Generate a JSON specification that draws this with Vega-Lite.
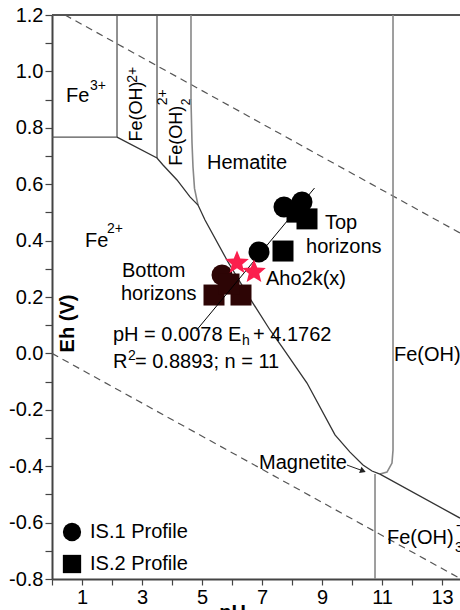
{
  "$schema": "https://vega.github.io/schema/vega-lite/v6.json",
  "width": 408,
  "height": 564,
  "autosize": {"type": "none"},
  "padding": {"left": 52, "top": 15, "right": 0, "bottom": 31},
  "background": "white",
  "config": {"view": {"stroke": null}, "font": "Liberation Sans"},
  "datasets": {
    "lines": [
      {"id": "frame", "kind": "frame", "o": 1, "pH": 0, "Eh": 1.2},
      {"id": "frame", "kind": "frame", "o": 2, "pH": 13.6, "Eh": 1.2},
      {"id": "fe3", "kind": "v", "o": 1, "pH": 0, "Eh": 0.767},
      {"id": "fe3", "kind": "v", "o": 2, "pH": 2.167, "Eh": 0.767},
      {"id": "v1", "kind": "v", "o": 1, "pH": 2.167, "Eh": 1.2},
      {"id": "v1", "kind": "v", "o": 2, "pH": 2.167, "Eh": 0.767},
      {"id": "v2", "kind": "v", "o": 1, "pH": 3.5, "Eh": 1.2},
      {"id": "v2", "kind": "v", "o": 2, "pH": 3.5, "Eh": 0.693},
      {"id": "hem", "kind": "grey", "o": 1, "pH": 4.633, "Eh": 1.2},
      {"id": "hem", "kind": "grey", "o": 2, "pH": 4.633, "Eh": 0.899},
      {"id": "hem", "kind": "grey", "o": 3, "pH": 4.667, "Eh": 0.746},
      {"id": "hem", "kind": "grey", "o": 4, "pH": 4.7, "Eh": 0.661},
      {"id": "hem", "kind": "grey", "o": 5, "pH": 4.75, "Eh": 0.585},
      {"id": "hem", "kind": "grey", "o": 6, "pH": 4.867, "Eh": 0.526},
      {"id": "feoh3", "kind": "grey", "o": 1, "pH": 11.367, "Eh": 1.2},
      {"id": "feoh3", "kind": "grey", "o": 2, "pH": 11.367, "Eh": -0.343},
      {"id": "feoh3", "kind": "grey", "o": 3, "pH": 11.333, "Eh": -0.389},
      {"id": "feoh3", "kind": "grey", "o": 4, "pH": 11.167, "Eh": -0.421},
      {"id": "feoh3", "kind": "grey", "o": 5, "pH": 10.933, "Eh": -0.428},
      {"id": "vbot", "kind": "grey", "o": 1, "pH": 10.767, "Eh": -0.428},
      {"id": "vbot", "kind": "grey", "o": 2, "pH": 10.767, "Eh": -0.8},
      {"id": "fe2", "kind": "dark", "o": 1, "pH": 2.167, "Eh": 0.767},
      {"id": "fe2", "kind": "dark", "o": 2, "pH": 3.5, "Eh": 0.693},
      {"id": "fe2", "kind": "dark", "o": 3, "pH": 3.7, "Eh": 0.668},
      {"id": "fe2", "kind": "dark", "o": 4, "pH": 4.167, "Eh": 0.615},
      {"id": "fe2", "kind": "dark", "o": 5, "pH": 4.6, "Eh": 0.555},
      {"id": "fe2", "kind": "dark", "o": 6, "pH": 4.867, "Eh": 0.526},
      {"id": "fe2", "kind": "dark", "o": 7, "pH": 5.1, "Eh": 0.473},
      {"id": "fe2", "kind": "dark", "o": 8, "pH": 5.867, "Eh": 0.324},
      {"id": "fe2", "kind": "dark", "o": 9, "pH": 6.633, "Eh": 0.189},
      {"id": "fe2", "kind": "dark", "o": 10, "pH": 7.267, "Eh": 0.083},
      {"id": "fe2", "kind": "dark", "o": 11, "pH": 7.667, "Eh": 0.023},
      {"id": "fe2", "kind": "dark", "o": 12, "pH": 8.5, "Eh": -0.105},
      {"id": "fe2", "kind": "dark", "o": 13, "pH": 9.433, "Eh": -0.289},
      {"id": "fe2", "kind": "dark", "o": 14, "pH": 9.933, "Eh": -0.35},
      {"id": "fe2", "kind": "dark", "o": 15, "pH": 10.367, "Eh": -0.396},
      {"id": "fe2", "kind": "dark", "o": 16, "pH": 10.667, "Eh": -0.417},
      {"id": "fe2", "kind": "dark", "o": 17, "pH": 10.933, "Eh": -0.428},
      {"id": "fe2", "kind": "dark", "o": 18, "pH": 13.6, "Eh": -0.584},
      {"id": "w1", "kind": "dash", "o": 1, "pH": 0.433, "Eh": 1.2},
      {"id": "w1", "kind": "dash", "o": 2, "pH": 13.6, "Eh": 0.427},
      {"id": "w2", "kind": "dash", "o": 1, "pH": 0, "Eh": 0},
      {"id": "w2", "kind": "dash", "o": 2, "pH": 13.6, "Eh": -0.798},
      {"id": "reg", "kind": "reg", "o": 1, "pH": 4.8, "Eh": 0.08},
      {"id": "reg", "kind": "reg", "o": 2, "pH": 8.75, "Eh": 0.5864},
      {"id": "arr", "kind": "arrow", "o": 1, "pH": 9.833, "Eh": -0.396},
      {"id": "arr", "kind": "arrow", "o": 2, "pH": 10.3, "Eh": -0.414}
    ],
    "samples": [
      {"profile": "IS.1 Profile", "grp": "upper", "pH": 7.733, "Eh": 0.519},
      {"profile": "IS.1 Profile", "grp": "upper", "pH": 8.333, "Eh": 0.537},
      {"profile": "IS.1 Profile", "grp": "upper", "pH": 6.9, "Eh": 0.36},
      {"profile": "IS.1 Profile", "grp": "lower", "pH": 5.667, "Eh": 0.278},
      {"profile": "IS.2 Profile", "grp": "upper", "pH": 8.167, "Eh": 0.501},
      {"profile": "IS.2 Profile", "grp": "upper", "pH": 8.5, "Eh": 0.477},
      {"profile": "IS.2 Profile", "grp": "upper", "pH": 7.7, "Eh": 0.363},
      {"profile": "IS.2 Profile", "grp": "lower", "pH": 5.4, "Eh": 0.207},
      {"profile": "IS.2 Profile", "grp": "lower", "pH": 6.3, "Eh": 0.207},
      {"profile": "IS.2 Profile", "grp": "lower", "pH": 5.9, "Eh": 0.246}
    ],
    "aho": [
      {"pH": 6.167, "Eh": 0.321},
      {"pH": 6.733, "Eh": 0.289}
    ],
    "tips": [
      {"pH": 10.367, "Eh": -0.417}
    ],
    "t20": [
      {"t": "Fe", "pH": 0.467, "Eh": 0.891},
      {"t": "Fe", "pH": 1.1, "Eh": 0.377},
      {"t": "Hematite", "pH": 5.167, "Eh": 0.654},
      {"t": "Top", "pH": 9.1, "Eh": 0.441},
      {"t": "horizons", "pH": 8.467, "Eh": 0.356},
      {"t": "Bottom", "pH": 2.333, "Eh": 0.271},
      {"t": "horizons", "pH": 2.3, "Eh": 0.189},
      {"t": "Aho2k(x)", "pH": 7.133, "Eh": 0.243},
      {"t": "pH = 0.0078 E", "pH": 2.033, "Eh": 0.044},
      {"t": "+ 4.1762", "pH": 6.7, "Eh": 0.044},
      {"t": "R", "pH": 2.033, "Eh": -0.052},
      {"t": "= 0.8893; n = 11", "pH": 2.767, "Eh": -0.052},
      {"t": "Fe(OH)", "pH": 11.4, "Eh": -0.027},
      {"t": "Magnetite", "pH": 6.9, "Eh": -0.41},
      {"t": "Fe(OH)", "pH": 11.167, "Eh": -0.676}
    ],
    "t14": [
      {"t": "3+", "pH": 1.267, "Eh": 0.934},
      {"t": "2+", "pH": 1.833, "Eh": 0.427},
      {"t": "h", "pH": 6.333, "Eh": 0.03},
      {"t": "2", "pH": 2.533, "Eh": -0.023},
      {"t": "-", "pH": 13.467, "Eh": -0.626},
      {"t": "3", "pH": 13.433, "Eh": -0.704}
    ],
    "rot18": [
      {"t": "Fe(OH)", "pH": 3.0, "Eh": 0.751},
      {"t": "Fe(OH)", "pH": 4.333, "Eh": 0.665}
    ],
    "rot14": [
      {"t": "2+", "pH": 2.833, "Eh": 0.96},
      {"t": "2+", "pH": 3.833, "Eh": 0.88}
    ],
    "rot12": [
      {"t": "2", "pH": 4.6, "Eh": 0.88}
    ]
  },
  "encoding": {
    "x": {
      "field": "pH",
      "type": "quantitative",
      "scale": {"domain": [0, 13.6], "nice": false, "zero": false},
      "axis": {
        "values": [0, 1, 2, 3, 4, 5, 6, 7, 8, 9, 10, 11, 12, 13],
        "format": "d",
        "labelExpr": "datum.value % 2 == 1 ? datum.label : ''",
        "grid": false,
        "tickSize": 6,
        "tickColor": "#444",
        "tickWidth": 1.2,
        "domainColor": "#444",
        "domainWidth": 2,
        "labelFont": "Liberation Sans",
        "labelFontSize": 20,
        "labelColor": "#000",
        "labelPadding": 2,
        "labelFlush": false,
        "labelOverlap": false,
        "title": "pH",
        "titleFont": "Liberation Sans",
        "titleFontSize": 20,
        "titleFontWeight": "bold",
        "titleColor": "#000",
        "titleX": 180,
        "titleY": 23,
        "titleBaseline": "top",
        "titleAlign": "center"
      }
    },
    "y": {
      "field": "Eh",
      "type": "quantitative",
      "scale": {"domain": [-0.8, 1.2], "nice": false, "zero": false},
      "axis": {
        "values": [-0.8, -0.7, -0.6, -0.5, -0.4, -0.3, -0.2, -0.1, 0, 0.1, 0.2, 0.3, 0.4, 0.5, 0.6, 0.7, 0.8, 0.9, 1.0, 1.1, 1.2],
        "labelExpr": "abs(round(datum.value * 10)) % 2 == 0 ? (datum.value < -0.001 ? '-' + format(-datum.value, '.1f') : format(abs(datum.value), '.1f')) : ''",
        "grid": false,
        "tickSize": 7,
        "tickColor": "#444",
        "tickWidth": 1.2,
        "domainColor": "#444",
        "domainWidth": 2,
        "labelFont": "Liberation Sans",
        "labelFontSize": 20,
        "labelColor": "#000",
        "labelPadding": 2,
        "labelFlush": false,
        "labelOverlap": false,
        "title": "Eh (V)",
        "titleFont": "Liberation Sans",
        "titleFontSize": 20,
        "titleFontWeight": "bold",
        "titleColor": "#000",
        "titleAngle": 270,
        "titleX": 21,
        "titleY": 308,
        "titleBaseline": "alphabetic",
        "titleAlign": "center",
        "encode": {"labels": {"update": {"dy": {"signal": "datum.value > 1.15 ? 5 : 0"}}}}
      }
    }
  },
  "layer": [
    {
      "data": {"name": "lines"},
      "transform": [{"filter": "datum.kind == 'dash'"}],
      "mark": {"type": "line", "color": "#555", "strokeWidth": 1.2, "strokeDash": [7, 5]},
      "encoding": {"detail": {"field": "id"}, "order": {"field": "o", "type": "quantitative"}}
    },
    {
      "data": {"name": "lines"},
      "transform": [{"filter": "datum.kind == 'frame'"}],
      "mark": {"type": "line", "color": "#555", "strokeWidth": 2},
      "encoding": {"detail": {"field": "id"}, "order": {"field": "o", "type": "quantitative"}}
    },
    {
      "data": {"name": "lines"},
      "transform": [{"filter": "datum.kind == 'v'"}],
      "mark": {"type": "line", "color": "#555", "strokeWidth": 1.3},
      "encoding": {"detail": {"field": "id"}, "order": {"field": "o", "type": "quantitative"}}
    },
    {
      "data": {"name": "lines"},
      "transform": [{"filter": "datum.kind == 'grey'"}],
      "mark": {"type": "line", "color": "#888", "strokeWidth": 1.6},
      "encoding": {"detail": {"field": "id"}, "order": {"field": "o", "type": "quantitative"}}
    },
    {
      "data": {"name": "lines"},
      "transform": [{"filter": "datum.kind == 'dark'"}],
      "mark": {"type": "line", "color": "#333", "strokeWidth": 1.3},
      "encoding": {"detail": {"field": "id"}, "order": {"field": "o", "type": "quantitative"}}
    },
    {
      "data": {"name": "samples"},
      "mark": {"type": "point", "filled": true, "opacity": 1, "strokeWidth": 0, "size": 441},
      "encoding": {
        "shape": {
          "field": "profile",
          "type": "nominal",
          "scale": {"domain": ["IS.1 Profile", "IS.2 Profile"], "range": ["circle", "square"]},
          "legend": {
            "orient": "none",
            "legendX": 10,
            "legendY": 507,
            "title": null,
            "padding": 0,
            "symbolSize": 335,
            "symbolStrokeWidth": 0,
            "symbolFillColor": "#000",
            "symbolOpacity": 1,
            "labelFont": "Liberation Sans",
            "labelFontSize": 20,
            "labelColor": "#000",
            "labelOffset": 8,
            "rowPadding": 12,
            "encode": {"symbols": {"update": {"fill": {"value": "#000"}, "stroke": {"value": "transparent"}, "opacity": {"value": 1}}}}
          }
        },
        "color": {
          "field": "grp",
          "type": "nominal",
          "scale": {"domain": ["upper", "lower"], "range": ["#000000", "#2d0505"]},
          "legend": null
        }
      }
    },
    {
      "data": {"name": "lines"},
      "transform": [{"filter": "datum.kind == 'reg'"}],
      "mark": {"type": "line", "color": "#000", "strokeWidth": 1},
      "encoding": {"detail": {"field": "id"}, "order": {"field": "o", "type": "quantitative"}}
    },
    {
      "data": {"name": "aho"},
      "mark": {
        "type": "point",
        "shape": "M0,-1L0.26,-0.36L0.95,-0.31L0.42,0.14L0.59,0.81L0,0.44L-0.59,0.81L-0.42,0.14L-0.95,-0.31L-0.26,-0.36Z",
        "filled": true,
        "color": "#fb1f4d",
        "opacity": 1,
        "strokeWidth": 0,
        "size": 620
      }
    },
    {
      "data": {"name": "lines"},
      "transform": [{"filter": "datum.kind == 'arrow'"}],
      "mark": {"type": "line", "color": "#222", "strokeWidth": 1},
      "encoding": {"detail": {"field": "id"}, "order": {"field": "o", "type": "quantitative"}}
    },
    {
      "data": {"name": "tips"},
      "mark": {"type": "point", "shape": "triangle-right", "angle": 21, "filled": true, "color": "#222", "opacity": 1, "size": 45}
    },
    {
      "data": {"name": "t20"},
      "mark": {"type": "text", "font": "Liberation Sans", "fontSize": 20, "align": "left", "baseline": "alphabetic", "color": "#000"},
      "encoding": {"text": {"field": "t"}}
    },
    {
      "data": {"name": "t14"},
      "mark": {"type": "text", "font": "Liberation Sans", "fontSize": 14, "align": "left", "baseline": "alphabetic", "color": "#000"},
      "encoding": {"text": {"field": "t"}}
    },
    {
      "data": {"name": "rot18"},
      "mark": {"type": "text", "font": "Liberation Sans", "fontSize": 18, "angle": 270, "align": "left", "baseline": "alphabetic", "color": "#000"},
      "encoding": {"text": {"field": "t"}}
    },
    {
      "data": {"name": "rot14"},
      "mark": {"type": "text", "font": "Liberation Sans", "fontSize": 14, "angle": 270, "align": "left", "baseline": "alphabetic", "color": "#000"},
      "encoding": {"text": {"field": "t"}}
    },
    {
      "data": {"name": "rot12"},
      "mark": {"type": "text", "font": "Liberation Sans", "fontSize": 12, "angle": 270, "align": "left", "baseline": "alphabetic", "color": "#000"},
      "encoding": {"text": {"field": "t"}}
    }
  ]
}
